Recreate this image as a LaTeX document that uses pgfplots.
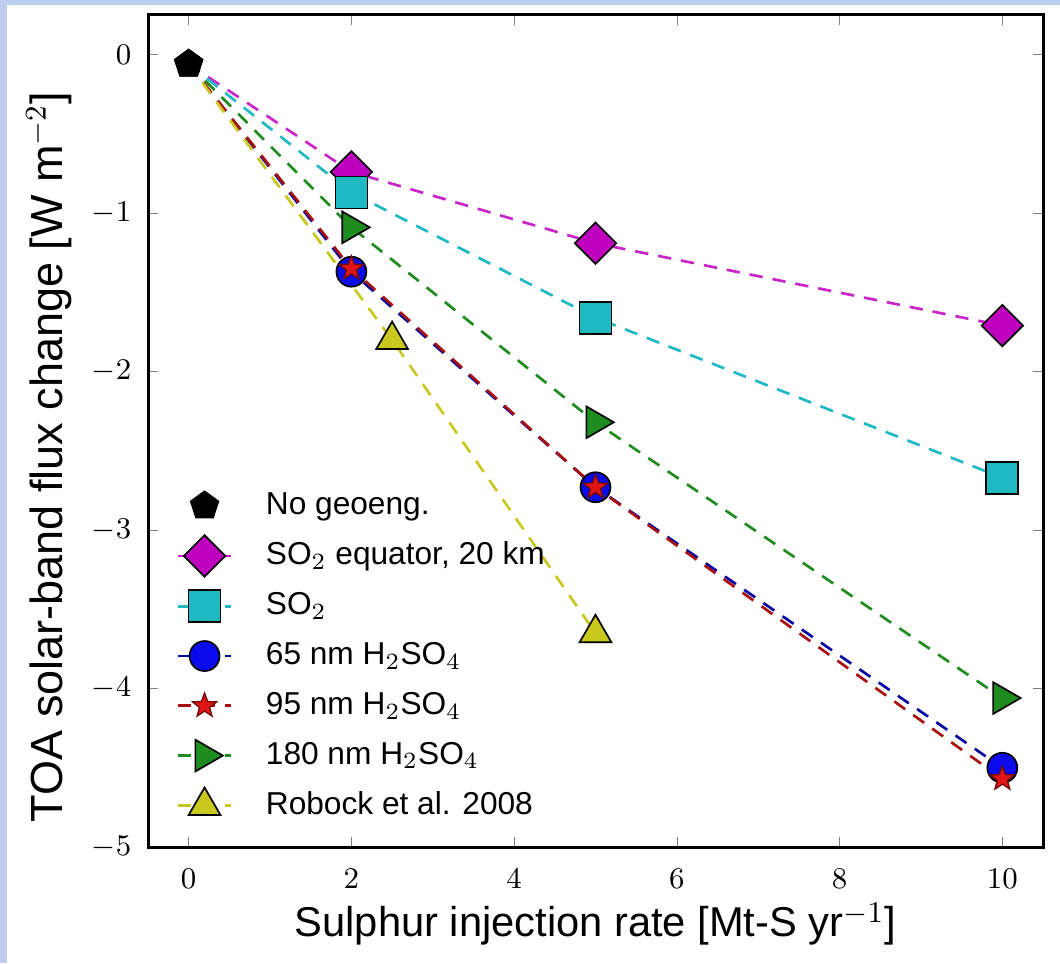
\documentclass[border=0pt]{standalone}
\usepackage{pgfplots}
\pgfplotsset{compat=1.18}
\usepackage{fontspec}
\setmainfont{Liberation Sans}
\usetikzlibrary{plotmarks}

\definecolor{bgblue}{RGB}{190,206,238}
\definecolor{mpM}{RGB}{191,0,191}
\definecolor{mpC}{RGB}{30,185,195}
\definecolor{mpB}{RGB}{10,10,235}
\definecolor{mpR}{RGB}{225,20,20}
\definecolor{mpG}{RGB}{30,140,30}
\definecolor{mpY}{RGB}{200,200,30}

% filled five-pointed star
\pgfdeclareplotmark{fstar}{%
  \pgfpathmoveto{\pgfqpointpolar{90}{\pgfplotmarksize}}%
  \pgfpathlineto{\pgfqpointpolar{126}{0.42\pgfplotmarksize}}%
  \pgfpathlineto{\pgfqpointpolar{162}{\pgfplotmarksize}}%
  \pgfpathlineto{\pgfqpointpolar{198}{0.42\pgfplotmarksize}}%
  \pgfpathlineto{\pgfqpointpolar{234}{\pgfplotmarksize}}%
  \pgfpathlineto{\pgfqpointpolar{270}{0.42\pgfplotmarksize}}%
  \pgfpathlineto{\pgfqpointpolar{306}{\pgfplotmarksize}}%
  \pgfpathlineto{\pgfqpointpolar{342}{0.42\pgfplotmarksize}}%
  \pgfpathlineto{\pgfqpointpolar{18}{\pgfplotmarksize}}%
  \pgfpathlineto{\pgfqpointpolar{54}{0.42\pgfplotmarksize}}%
  \pgfpathclose
  \pgfusepathqfillstroke}

\pgfplotsset{
  mline/.style={line width=0.8pt, dash pattern=on 4pt off 3pt, mark phase=2},
}

\begin{document}
\begin{tikzpicture}
% light blue frame round the figure
\fill[bgblue] (-44.4pt,-34.8pt) rectangle (273.6pt,254.1pt);
\fill[white] (-42.3pt,-34.8pt) rectangle (273.6pt,252.6pt);

\begin{axis}[
  scale only axis,
  width=268.5pt, height=249.6pt,
  xmin=-0.5, xmax=10.5,
  ymin=-5, ymax=0.25,
  xtick={0,2,...,10},
  ytick={-5,-4,...,0},
  major tick length=3pt,
  axis line style={line width=0.9pt},
  tick label style={font=\fontsize{9.5}{11}\selectfont},
  xticklabel shift=3pt,
  yticklabel shift=1.5pt,
  xlabel={Sulphur injection rate [Mt-S yr$^{-1}$]},
  ylabel={TOA solar-band flux change [W m$^{-2}$]},
  xlabel style={font=\fontsize{12.5}{14}\selectfont, at={(axis description cs:0.5,-0.108)}, anchor=base},
  ylabel style={font=\fontsize{13.5}{15}\selectfont, at={(axis description cs:-0.095,0.469)}, anchor=base, rotate=0},
  legend style={draw=none, fill=none, font=\fontsize{9.5}{11}\selectfont,
    at={(rel axis cs:0.02,0.443)}, anchor=north west, row sep=2.8pt,
    /tikz/every odd column/.append style={column sep=8pt}},
  legend cell align=left,
  legend image code/.code={%
    \draw[mark repeat=2,mark phase=2,#1] plot coordinates {(0pt,0pt) (8pt,0pt) (16pt,0pt)};},
]
\addplot[only marks, mark=pentagon*, mark size=4.4pt, mark options={fill=black, draw=black}]
  coordinates {(0,-0.06)};
\addlegendentry{No geoeng.}

\addplot[mline, color=mpM!85, mark=square*, mark size=4.4pt,
  mark options={solid, rotate=45, fill=mpM, draw=black, line width=0.5pt}]
  coordinates {(0,-0.06) (2,-0.74) (5,-1.19) (10,-1.71)};
\addlegendentry{SO$_2$ equator, 20 km}

\addplot[mline, color=mpC, mark=square*, mark size=4.8pt,
  mark options={solid, fill=mpC, draw=black, line width=0.5pt}]
  coordinates {(0,-0.06) (2,-0.87) (5,-1.66) (10,-2.67)};
\addlegendentry{SO$_2$}

\addplot[mline, color=mpB!70!black, mark=*, mark size=4.5pt,
  mark options={solid, fill=mpB, draw=black, line width=0.5pt}]
  coordinates {(0,-0.06) (2,-1.37) (5,-2.73) (10,-4.50)};
\addlegendentry{65 nm H$_2$SO$_4$}

\addplot[mline, color=mpR!75!black, mark=fstar, mark size=3.8pt,
  mark options={solid, fill=mpR, draw=mpR!50!black, line width=0.4pt}]
  coordinates {(0,-0.06) (2,-1.35) (5,-2.73) (10,-4.57)};
\addlegendentry{95 nm H$_2$SO$_4$}

\addplot[mline, color=mpG, mark=triangle*, mark size=5.5pt,
  mark options={solid, rotate=-90, fill=mpG, draw=black, line width=0.5pt}]
  coordinates {(0,-0.06) (2,-1.09) (5,-2.32) (10,-4.06)};
\addlegendentry{180 nm H$_2$SO$_4$}

\addplot[mline, color=mpY, mark=triangle*, mark size=5.5pt,
  mark options={solid, fill=mpY, draw=black, line width=0.5pt}]
  coordinates {(0,-0.06) (2.5,-1.80) (5,-3.65)};
\addlegendentry{Robock et al. 2008}

% pentagon again, on top of the line ends
\addplot[forget plot, only marks, mark=pentagon*, mark size=4.4pt, mark options={fill=black, draw=black}]
  coordinates {(0,-0.06)};
\end{axis}
\pgfresetboundingbox
\path[use as bounding box] (-44.4pt,-34.8pt) rectangle (273.6pt,254.1pt);
\end{tikzpicture}
\end{document}
